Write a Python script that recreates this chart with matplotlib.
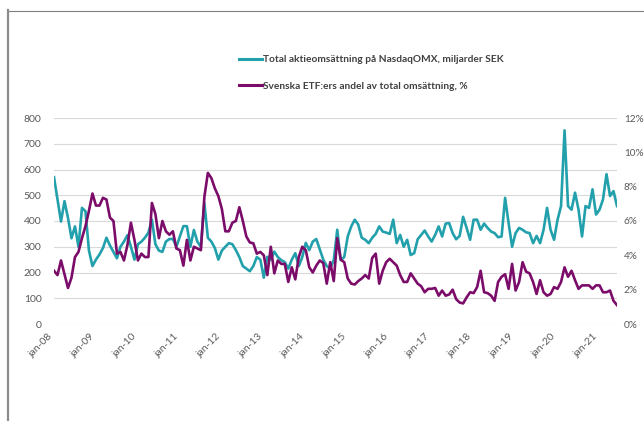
import numpy as np
import matplotlib
matplotlib.use("Agg")
import matplotlib.pyplot as plt
from matplotlib.lines import Line2D
from matplotlib.ticker import FuncFormatter

plt.rcParams['font.family'] = ['Lato', 'DejaVu Sans']

# Total aktieomsättning, miljarder SEK (jan-08 .. jun-21)
omsattning = [
    570, 484, 398, 477, 412, 333, 379, 300, 451, 438, 285, 225,
    250, 270, 295, 335, 305, 280, 255, 300, 320, 345, 300, 250,
    310, 320, 335, 355, 405, 310, 285, 280, 320, 330, 330, 300,
    340, 380, 380, 300, 365, 320, 300, 470, 335, 320, 295, 250,
    285, 300, 314, 310, 287, 260, 225, 215, 205, 225, 260, 250,
    180, 261, 250, 281, 260, 248, 240, 215, 250, 275, 225, 260,
    315, 287, 320, 330, 290, 250, 225, 216, 248, 366, 248, 260,
    340, 379, 405, 386, 335, 327, 314, 335, 350, 379, 359, 355,
    350, 405, 314, 346, 300, 327, 268, 275,
    329, 346, 363, 340, 320, 346, 379, 340, 390, 392, 353, 329,
    342, 416, 373, 327, 405, 405, 366, 390, 373, 359, 353, 337,
    340, 490, 392, 300, 353, 373, 366, 356, 353, 314, 342, 314,
    366, 451, 366, 327, 405, 458, 752, 458, 444, 510, 444, 340,
    458, 451, 523, 425, 444, 484, 582, 497, 516, 458,
]

# Svenska ETF:ers andel av total omsättning, %
etf_andel = [
    3.1, 2.85, 3.7, 2.9, 2.1, 2.7, 3.9, 4.2, 5.0, 5.7, 6.6, 7.6,
    6.9, 6.9, 7.35, 7.25, 6.2, 6.0, 4.1, 4.2, 3.7, 4.6, 5.9, 4.9,
    3.7, 4.1, 3.9, 3.9, 7.05, 6.4, 5.0, 6.0, 5.4, 5.2, 5.4, 4.4,
    4.3, 3.4, 4.9, 3.7, 4.5, 4.4, 4.3, 7.4, 8.8, 8.5, 7.9, 7.45,
    6.7, 5.4, 5.4, 5.9, 6.0, 6.8, 6.0, 5.1, 4.75, 4.7, 4.1, 4.2,
    4.0, 2.85, 4.5, 2.95, 3.7, 3.5, 3.5, 2.45, 3.3, 2.6, 3.9, 4.5,
    4.3, 3.3, 3.0, 3.4, 3.7, 3.55, 2.35, 3.6, 2.5, 5.0, 3.75, 3.6,
    2.65, 2.35, 2.3, 2.5, 2.65, 2.85, 2.65, 3.85, 4.1, 2.35, 3.1, 3.6,
    3.8, 3.6, 3.4, 2.85, 2.45, 2.45, 2.95, 2.65, 2.35, 2.2, 1.85, 2.05,
    2.05, 2.1, 1.65, 1.95, 1.65, 1.72, 2.0, 1.45, 1.25, 1.2, 1.55, 1.85,
    1.8, 2.15, 3.1, 1.85, 1.8, 1.65, 1.35, 2.45, 2.75, 2.9, 2.05, 3.5,
    1.95, 2.45, 3.6, 3.05, 2.95, 2.45, 1.75, 2.55, 1.85, 1.65, 1.75, 2.15,
    2.05, 2.45, 3.3, 2.75, 3.1, 2.55, 2.05, 2.25, 2.25, 2.25, 2.05, 2.25,
    2.25, 1.85, 1.85, 1.95, 1.35, 1.1,
]

ar = ["08", "09", "10", "11", "12", "13", "14", "15", "16", "17", "18", "19", "20", "21"]
tick_labels = ["jan-" + a for a in ar]

label_oms = "Total aktieomsättning på NasdaqOMX, miljarder SEK"
label_etf = "Svenska ETF:ers andel av total omsättning, %"

teal = "#22A0AC"
purple = "#7B0C6A"
grey_txt = "#595959"

x = np.arange(len(omsattning))

fig = plt.figure(figsize=(6.44, 4.21), dpi=100)
ax = fig.add_axes([54 / 644, 1 - 324 / 421, (617 - 54) / 644, (324 - 118) / 421])
ax2 = ax.twinx()

ax.plot(x, omsattning, color=teal, lw=1.9, solid_joinstyle="round", zorder=3)
ax2.plot(x, etf_andel, color=purple, lw=1.9, solid_joinstyle="round", zorder=3)

ax.set_xlim(0, len(x) - 1)
ax.set_ylim(0, 800)
ax2.set_ylim(0, 12)
ax.set_yticks(range(0, 801, 100))
ax2.set_yticks(range(0, 13, 2))
ax2.yaxis.set_major_formatter(FuncFormatter(lambda v, p: f"{v:.0f}%"))

ax.set_xticks(np.arange(0, len(x), 12))
ax.set_xticklabels(tick_labels, rotation=45, ha="right", va="top")

ax.grid(axis="y", color="#D9D9D9", lw=0.8)
ax.set_axisbelow(True)
for a in (ax, ax2):
    for s in a.spines.values():
        s.set_visible(False)
    a.tick_params(length=0, colors=grey_txt, labelsize=7.5)
ax.tick_params(axis="y", pad=9)
ax.tick_params(axis="x", pad=6)
ax2.tick_params(axis="y", pad=5, labelsize=7.2)

handles = [Line2D([], [], color=teal, lw=2.2), Line2D([], [], color=purple, lw=2.2)]
fig.legend(handles, [label_oms, label_etf], loc="upper left",
           bbox_to_anchor=(234 / 644, 1 - 50 / 421), frameon=False,
           prop={"weight": "bold", "size": 7.3}, labelcolor="#404040",
           handlelength=2.3, handletextpad=0.1, labelspacing=1.75, borderpad=0)

# ramen runt diagrammet
fig.add_artist(Line2D([8 / 644, 1], [1 - 10.5 / 421, 1 - 10.5 / 421], color="#7F7F7F", lw=0.8))
fig.add_artist(Line2D([8 / 644, 8 / 644], [0, 1 - 10 / 421], color="#8C8C8C", lw=1.6))

fig.savefig("out.png", dpi=100)
